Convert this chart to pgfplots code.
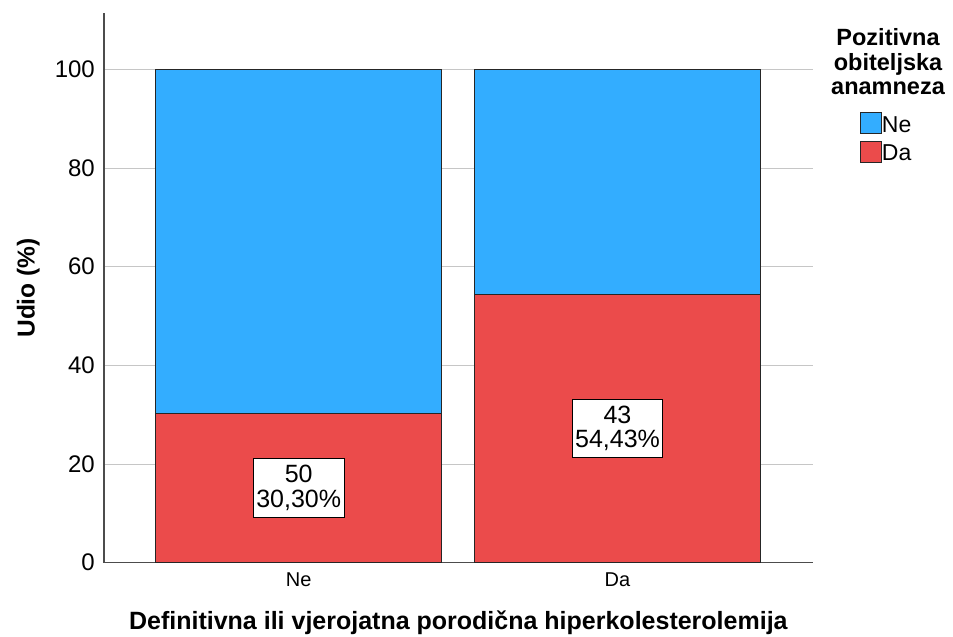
\documentclass[border=0pt]{standalone}
\usepackage{fontspec}
\setmainfont{Liberation Sans}
\usepackage{pgfplots}
\pgfplotsset{compat=1.18}
\definecolor{barblue}{RGB}{51,173,255}
\definecolor{barred}{RGB}{235,75,75}
\begin{document}
\begin{tikzpicture}
\useasboundingbox (-104pt,-74.3pt) rectangle (849pt,562.7pt);
\begin{axis}[
  at={(0pt,0pt)}, anchor=south west, clip=false,
  scale only axis, width=708.7pt, height=549.4pt,
  ybar stacked, bar width=0.897,
  xmin=-0.6107, xmax=1.6123, ymin=0, ymax=111.35,
  xtick=data, xticklabels={Ne,Da},
  ytick={0,20,40,60,80,100},
  major tick length=0pt,
  axis x line*=bottom, axis y line*=left,
  axis line style={black!70, line width=1.2pt, -},
  ymajorgrids, grid style={gray!45, line width=0.9pt},
  /pgf/number format/assume math mode=true,
  yticklabel style={font=\fontsize{24}{28}\selectfont, anchor=east, inner sep=0pt, xshift=-9pt},
  xticklabel style={font=\fontsize{20}{24}\selectfont, anchor=base, inner sep=0pt, yshift=-24pt},
  xlabel={Definitivna ili vjerojatna porodična hiperkolesterolemija},
  ylabel={Udio (\%)},
  xlabel style={font=\bfseries\fontsize{25}{28}\selectfont, at={(axis description cs:0.5,0)}, anchor=base, yshift=-67pt, inner sep=0pt},
  ylabel style={font=\bfseries\fontsize{24.5}{28}\selectfont, at={(axis description cs:-0.107,0.5)}, anchor=center, inner sep=0pt},
  reverse legend,
  legend style={at={(axis description cs:1.0667,0.8203)}, anchor=north west, draw=none, fill=none, inner sep=0pt, row sep=7pt, font=\fontsize{23}{26}\selectfont, nodes={inner sep=0pt, anchor=base west}},
  legend image code/.code={\draw[#1] (0pt,-1.5pt) rectangle (21pt,19.5pt);},
]
\addplot[fill=barred, draw=black!85, line width=0.8pt,
  point meta=explicit symbolic,
  visualization depends on={rawy \as \rawy},
  nodes near coords={\pgfplotspointmeta\\\pgfmathprintnumber[fixed,fixed zerofill,precision=2,use comma]{\rawy}\%},
  every node near coord/.append style={anchor=center, align=center, fill=white, draw=black, line width=0.8pt, font=\fontsize{25}{24.7}\selectfont, inner xsep=3pt, inner ysep=6.5pt, text=black}
] coordinates {(0,30.30) [50] (1,54.43) [43]};
\addplot[fill=barblue, draw=black!85, line width=0.8pt] coordinates {(0,69.70) (1,45.57)};
\legend{Da,Ne}
\node[font=\bfseries\fontsize{23.5}{24.5}\selectfont, align=center, anchor=north, inner sep=0pt] at (axis description cs:1.1063,0.9723) {Pozitivna\\obiteljska\\anamneza};
\end{axis}
\end{tikzpicture}
\end{document}
